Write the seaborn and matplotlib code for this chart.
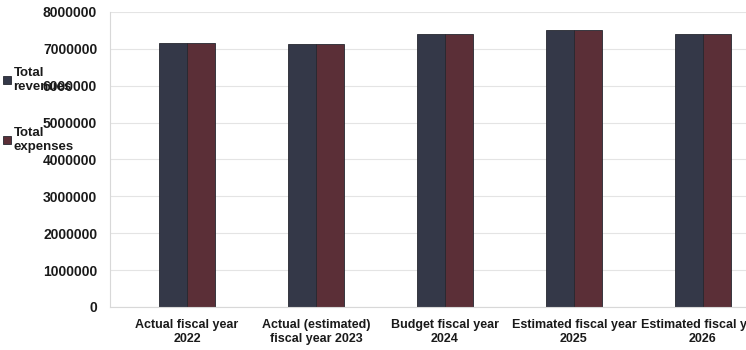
import matplotlib
matplotlib.use("Agg")
import matplotlib.pyplot as plt
import seaborn as sns
import pandas as pd

categories = ["Actual fiscal year\n2022", "Actual (estimated)\nfiscal year 2023",
              "Budget fiscal year\n2024", "Estimated fiscal year\n2025",
              "Estimated fiscal year\n2026"]
series_names = ["Total\nrevenues", "Total\nexpenses"]
revenues = [7160000, 7130000, 7400000, 7510000, 7390000]
expenses = [7160000, 7130000, 7400000, 7510000, 7390000]
yticks = [0, 1000000, 2000000, 3000000, 4000000, 5000000, 6000000, 7000000, 8000000]

df = pd.DataFrame({
    "category": categories * 2,
    "series": [series_names[0]] * len(categories) + [series_names[1]] * len(categories),
    "value": revenues + expenses,
})

sns.set_theme(style="white")
plt.rcParams['font.family'] = ['Liberation Sans', 'DejaVu Sans']
plt.rcParams['font.weight'] = 'bold'

fig = plt.figure(figsize=(7.46, 3.5), dpi=100)
ax = fig.add_axes([0.147, 0.123, 0.899, 0.843])

palette = {series_names[0]: "#343848", series_names[1]: "#5b2f37"}
sns.barplot(data=df, x="category", y="value", hue="series", order=categories,
            hue_order=series_names, palette=palette, width=0.44, gap=0,
            saturation=1, edgecolor="#262830", linewidth=0.6, ax=ax)

ax.set_xlim(-0.6, 4.6)
ax.set_ylim(0, 8000000)
ax.set_yticks(yticks)
ax.set_yticklabels([str(v) for v in yticks], fontsize=10, fontweight='bold', color="#1a1a1a")
ax.tick_params(axis='x', labelsize=9, colors="#1a1a1a", length=0, pad=9)
ax.tick_params(axis='y', length=0, pad=9)
for lab in ax.get_xticklabels():
    lab.set_fontweight('bold')
ax.set_xlabel("")
ax.set_ylabel("")
ax.yaxis.grid(True, color="#e4e4e4", linewidth=0.8)
ax.set_axisbelow(True)
for s in ["top", "right"]:
    ax.spines[s].set_visible(False)
for s in ["left", "bottom"]:
    ax.spines[s].set_color("#d8d8d8")
    ax.spines[s].set_linewidth(0.8)

handles, labels = ax.get_legend_handles_labels()
ax.legend_.remove()
leg = fig.legend(handles, labels, loc="upper left", bbox_to_anchor=(-0.003, 0.823),
                 frameon=False, fontsize=9.5, handlelength=0.6, handleheight=0.6,
                 handletextpad=0.2, labelspacing=2.6, borderaxespad=0)
for t in leg.get_texts():
    t.set_fontweight('bold')
    t.set_color("#1a1a1a")

fig.savefig("out.png", dpi=100)
